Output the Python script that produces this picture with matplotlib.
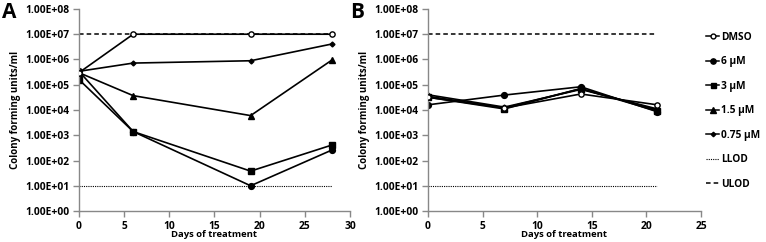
import numpy as np
import matplotlib.pyplot as plt
from matplotlib.lines import Line2D

plt.rcParams['font.family'] = ['Open Sans', 'DejaVu Sans']
plt.rcParams['font.weight'] = 'bold'

# panel A
days_a = [0, 6, 19, 28]
dmso_a = [3.0e5, 1.0e7, 1.0e7, 1.0e7]
um6_a = [3.4e5, 1.4e3, 1.0e1, 2.6e2]
um3_a = [1.6e5, 1.4e3, 3.8e1, 4.1e2]
um15_a = [3.0e5, 3.7e4, 6.0e3, 9.5e5]
um075_a = [3.4e5, 7.2e5, 8.9e5, 4.1e6]

# panel B
days_b = [0, 7, 14, 21]
dmso_b = [3.2e4, 1.2e4, 4.3e4, 1.6e4]
um6_b = [1.6e4, 3.9e4, 8.3e4, 8.5e3]
um3_b = [3.2e4, 1.1e4, 7.0e4, 9.0e3]
um15_b = [3.5e4, 1.2e4, 7.0e4, 1.0e4]
um075_b = [4.0e4, 1.3e4, 6.5e4, 1.1e4]

llod = 1e1
ulod = 1e7
labels = ['DMSO', '6 µM', '3 µM', '1.5 µM', '0.75 µM', 'LLOD', 'ULOD']
yticks = [10.0**k for k in range(0, 9)]

fig = plt.figure(figsize=(7.66, 2.42), dpi=100)
ax_a = fig.add_axes([0.1031, 0.128, 0.3538, 0.835])
ax_b = fig.add_axes([0.5587, 0.128, 0.3564, 0.835])

def draw(ax, days, series, xmax):
    lw = 1.2
    ax.plot([days[0], days[-1]], [llod, llod], color='black', ls=(0, (1, 1)), lw=0.8, zorder=1)
    ax.plot([days[0], days[-1]], [ulod, ulod], color='black', ls=(0, (3, 2)), lw=1.1, zorder=1)
    dmso, u6, u3, u15, u075 = series
    ax.plot(days, u075, '-D', color='black', ms=2.5, lw=lw, zorder=2)
    ax.plot(days, u15, '-^', color='black', ms=4, lw=lw, zorder=2)
    ax.plot(days, u3, '-s', color='black', ms=4, lw=lw, zorder=2)
    ax.plot(days, u6, '-o', color='black', ms=4.2, lw=lw, zorder=2)
    ax.plot(days, dmso, '-o', color='black', mfc='white', ms=3.8, mew=1.0, lw=lw, zorder=3)
    ax.set_yscale('log')
    ax.set_ylim(1, 1e8)
    ax.set_xlim(0, xmax)
    ax.set_yticks(yticks)
    ax.set_yticklabels(['%.2E' % v for v in yticks])
    ax.minorticks_off()
    ax.set_xticks(range(0, xmax + 1, 5))
    for s in ['top', 'right']:
        ax.spines[s].set_visible(False)
    for s in ['left', 'bottom']:
        ax.spines[s].set_color('#888888')
        ax.spines[s].set_linewidth(1.0)
    ax.tick_params(axis='both', colors='#888888', labelcolor='black', labelsize=7.4, length=4, width=1.0, pad=3)
    for t in ax.get_xticklabels() + ax.get_yticklabels():
        t.set_fontweight('bold')
    ax.set_xlabel('Days of treatment', fontsize=6.8, fontweight='bold', labelpad=-1)
    ax.set_ylabel('Colony forming units/ml', fontsize=7.0, fontweight='bold', labelpad=3)
    ax.patch.set_alpha(0)

draw(ax_a, days_a, [dmso_a, um6_a, um3_a, um15_a, um075_a], 30)
draw(ax_b, days_b, [dmso_b, um6_b, um3_b, um15_b, um075_b], 25)

handles = [
    Line2D([], [], color='black', marker='o', mfc='white', ms=3.5, lw=1.1),
    Line2D([], [], color='black', marker='o', ms=3.8, lw=1.1),
    Line2D([], [], color='black', marker='s', ms=3.6, lw=1.1),
    Line2D([], [], color='black', marker='^', ms=3.8, lw=1.1),
    Line2D([], [], color='black', marker='D', ms=2.3, lw=1.1),
    Line2D([], [], color='black', ls=(0, (1, 1)), lw=0.8),
    Line2D([], [], color='black', ls=(0, (3, 2)), lw=1.1),
]
fig.legend(handles, labels, loc='upper left', bbox_to_anchor=(0.922, 0.868),
           frameon=False, labelspacing=1.33, handlelength=1.3,
           handletextpad=0.15, borderaxespad=0, borderpad=0,
           prop={'weight': 'bold', 'size': 7.3})

fig.text(0.002, 0.99, 'A', fontsize=15, fontweight='bold', va='top', ha='left')
fig.text(0.457, 0.99, 'B', fontsize=15, fontweight='bold', va='top', ha='left')

fig.savefig('out.png', dpi=100)
